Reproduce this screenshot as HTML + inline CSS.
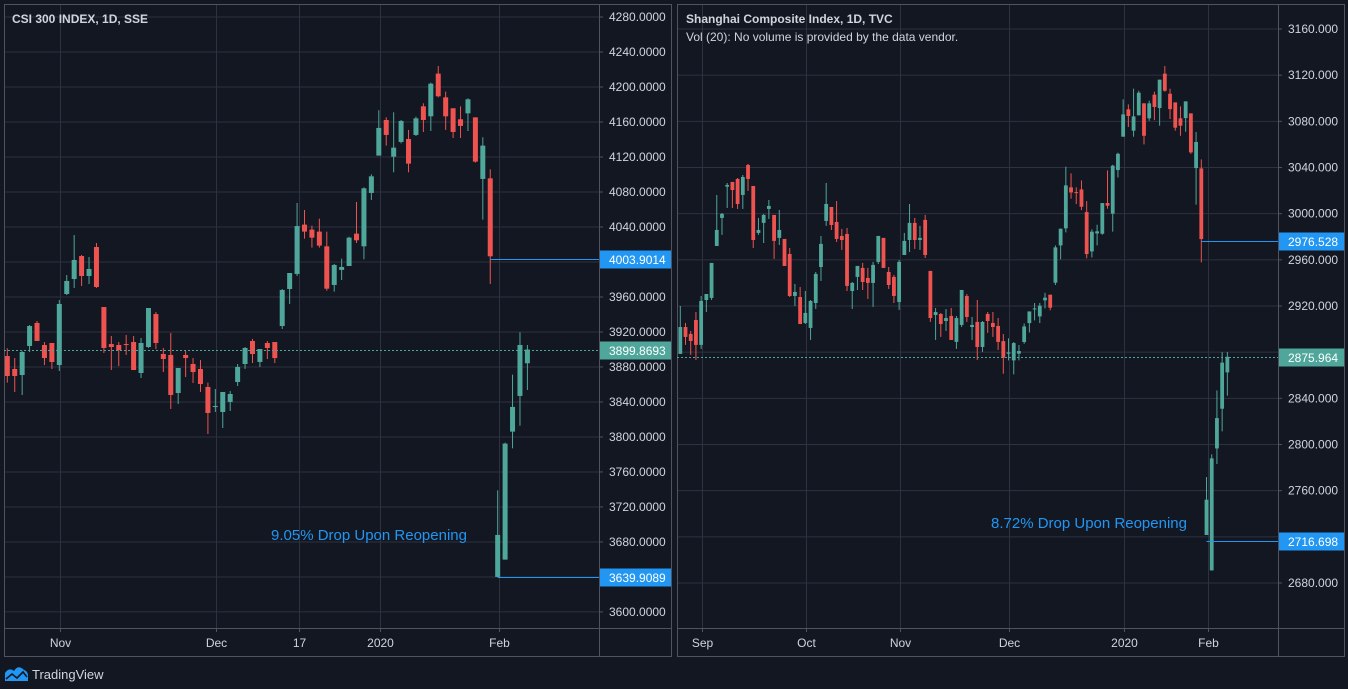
<!DOCTYPE html>
<html><head><meta charset="utf-8">
<style>
html,body{margin:0;padding:0;background:#131722;}
svg{display:block;font-family:"Liberation Sans",sans-serif;}
</style></head>
<body>
<svg id="chart" width="1348" height="689" viewBox="0 0 1348 689" xmlns="http://www.w3.org/2000/svg">
<rect x="0" y="0" width="1348" height="689" fill="#131722"/>
<g id="left"></g>
<g id="right"></g>
<g>
<path d="M5 681 L5 673 Q9 667 14 671 Q18 664 24 670 Q28 671 28 676 L28 681 Z" fill="#2196f3"/>
<path d="M6 679 L12 674 L17 678 L23 672 L27 677" stroke="#131722" stroke-width="1.6" fill="none"/>
<text x="32" y="679" fill="#d1d4dc" font-size="13">TradingView</text>
</g>
</svg>
<script>
// ===== CSI 300 data =====
const csiOpen  = [3892.5,3877.7,3870.8,3904.0,3930.3,3905.1,3907.4,3882.2,3963.4,3980.5,4006.8,3984.0,4017.1,3948.5,3906.2,3905.1,3906.2,3908.5,3873.1,3902.8,3940.5,3894.8,3893.7,3850.2,3893.7,3883.4,3877.7,3857.1,3834.2,3828.5,3840.0,3862.8,3883.4,3909.7,3885.7,3907.4,3908.5,3926.8,3969.1,3986.3,4042.7,4037.0,4034.7,4017.9,3973.7,3990.9,3995.4,4032.4,4017.9,4078.9,4121.6,4162.3,4120.4,4137.2,4140.6,4145.2,4177.9,4166.5,4215.3,4188.2,4175.7,4163.1,4169.9,4165.3,4094.9,4095.6,3640.0,3659.8,3806.1,3846.9,3884.2];
const csiHigh  = [3901.3,3890.2,3898.2,3928.0,3932.5,3908.5,3907.4,3956.5,3985.1,4030.8,4008.0,4005.7,4021.7,3948.5,3915.4,3908.5,3916.5,3915.4,3913.1,3947.4,3942.8,3901.7,3918.8,3878.8,3898.2,3890.2,3888.0,3862.1,3854.8,3851.4,3852.5,3883.4,3902.8,3912.0,3900.5,3909.7,3908.5,3969.1,3987.4,4067.4,4059.4,4041.5,4049.5,4034.7,3997.7,4003.8,4028.9,4068.6,4085.3,4100.2,4173.4,4165.3,4171.1,4162.3,4150.9,4166.1,4181.4,4205.0,4224.0,4194.7,4175.7,4177.9,4187.1,4165.3,4142.5,4105.9,3739.0,3793.5,3871.2,3919.6,3905.1];
const csiLow   = [3862.1,3851.4,3848.0,3897.1,3909.7,3882.2,3877.7,3875.4,3962.3,3970.3,3972.5,3974.8,3970.3,3896.0,3876.5,3881.1,3893.7,3876.5,3867.4,3901.7,3900.5,3874.2,3832.0,3837.7,3868.5,3861.7,3851.4,3803.4,3828.5,3810.2,3829.7,3858.2,3877.7,3884.5,3880.0,3889.1,3884.5,3923.4,3952.0,3984.0,4026.7,4016.4,4016.4,3967.2,3966.1,3979.4,3995.4,4021.7,4003.1,4070.9,4121.6,4133.0,4102.5,4135.6,4102.5,4144.0,4148.6,4149.7,4188.2,4150.9,4141.7,4141.7,4149.7,4113.6,4048.4,3974.9,3640.0,3659.8,3787.0,3812.9,3853.7];
const csiClose = [3869.7,3869.7,3897.1,3926.8,3909.7,3890.2,3885.7,3952.0,3978.3,4002.3,3984.0,3992.0,3971.4,3901.7,3902.8,3899.4,3905.1,3876.5,3907.4,3947.4,3907.4,3889.1,3848.0,3878.8,3890.2,3874.2,3860.5,3827.4,3835.4,3851.4,3849.1,3880.0,3901.7,3894.8,3900.5,3901.7,3890.2,3968.0,3987.4,4041.1,4034.7,4027.8,4018.7,3969.5,3996.6,3994.3,4027.8,4024.8,4084.2,4097.9,4153.2,4145.2,4130.7,4161.2,4112.4,4164.2,4162.3,4203.8,4189.4,4166.5,4148.6,4155.5,4185.9,4114.7,4133.0,4006.5,3688.0,3792.4,3834.3,3905.1,3899.9];
const csiTickValues = [4280,4240,4200,4160,4120,4080,4040,4000,3960,3920,3880,3840,3800,3760,3720,3680,3640,3600];
const csiTimeLabels = ["Nov","Dec","17","2020","Feb"];
const csiTimeIdx = [7.13,28.1,39.2,50.2,66.2];

// ===== Shanghai Composite data =====
const shOpen  = [2878.5,2901.8,2895.8,2907.9,2886.3,2925.2,2927.0,2972.0,2996.3,3023.4,3027.5,3030.1,3016.2,3042.2,3024.0,2983.3,2992.0,3004.1,2998.9,2979.0,2978.1,2965.1,2928.7,2927.8,2905.3,2901.0,2922.6,2953.8,2993.7,3005.8,2992.8,2980.7,2982.4,2933.0,2945.2,2953.0,2944.3,2940.0,2958.2,2979.0,2949.5,2945.2,2923.5,2964.2,2977.2,2992.0,2977.2,2994.6,2950.4,2912.2,2913.1,2907.0,2911.4,2888.9,2903.6,2928.7,2901.8,2906.2,2884.5,2913.1,2905.3,2902.7,2889.6,2878.7,2872.9,2878.7,2888.8,2905.2,2917.1,2911.0,2924.9,2929.8,2940.2,2972.5,2987.3,3022.8,3018.7,3021.0,3001.4,2967.3,2982.9,2982.6,3009.2,3000.0,3037.8,3066.7,3090.4,3071.9,3085.2,3095.6,3082.6,3103.1,3091.5,3121.3,3103.9,3096.4,3082.6,3082.8,3086.9,3039.5,3039.2,2721.6,2690.9,2796.6,2831.0,2862.5];
const shHigh  = [2920.0,2905.3,2898.4,2914.8,2928.7,2930.4,2957.3,3016.2,3000.6,3026.6,3027.5,3030.9,3033.5,3043.1,3024.0,2996.3,2999.8,3011.9,2998.9,3003.2,2978.1,2970.3,2939.1,2936.5,2933.0,2925.2,2949.5,2980.7,3026.6,3005.8,3011.0,2986.8,2987.6,2940.8,2954.7,2957.3,2953.0,2958.2,2980.7,2979.0,2953.8,2946.9,2959.9,2983.3,3008.4,2996.3,2989.4,2998.9,2950.4,2918.3,2914.0,2917.4,2918.3,2911.4,2933.9,2930.4,2910.5,2925.2,2907.0,2914.8,2914.8,2909.6,2895.7,2892.0,2888.8,2886.2,2904.9,2915.3,2922.6,2922.6,2931.5,2929.8,2972.5,2987.0,3040.7,3034.9,3022.8,3028.8,3010.9,2986.4,2990.4,3009.2,3037.5,3042.4,3052.8,3099.0,3094.7,3108.3,3106.5,3095.6,3097.9,3105.7,3116.1,3127.9,3108.3,3096.4,3093.0,3097.3,3086.9,3070.7,3047.0,2771.8,2791.5,2846.9,2880.1,2880.1];
const shLow   = [2878.5,2886.3,2877.6,2873.3,2882.8,2914.8,2925.2,2972.0,2981.6,3004.9,3004.9,3004.1,3004.1,3019.7,2970.3,2981.6,2974.6,2995.4,2960.8,2972.9,2954.7,2927.8,2920.0,2904.4,2904.4,2890.6,2917.4,2941.7,2989.4,2985.9,2975.5,2968.6,2933.0,2917.4,2933.9,2933.9,2926.1,2919.2,2956.4,2953.0,2934.8,2922.6,2916.6,2964.2,2966.8,2969.4,2968.6,2961.6,2906.2,2890.6,2893.2,2898.4,2890.6,2882.8,2901.8,2906.2,2890.6,2873.3,2880.2,2896.7,2893.2,2881.9,2861.3,2872.9,2860.8,2872.9,2887.3,2897.1,2907.5,2905.2,2917.9,2916.2,2938.2,2960.4,2983.8,3013.0,3008.3,3003.1,2961.3,2962.1,2972.5,2981.8,3004.3,2984.4,3031.4,3066.7,3075.1,3066.7,3085.2,3060.0,3080.5,3081.1,3076.2,3105.7,3082.0,3071.9,3067.5,3071.0,3051.9,3007.8,2957.8,2721.6,2690.9,2783.1,2811.4,2842.3];
const shClose = [2901.8,2893.2,2889.7,2886.3,2924.4,2930.4,2957.3,2985.9,2999.8,3024.9,3020.5,3008.4,3031.8,3030.1,2977.2,2985.9,2998.9,3006.7,2976.4,2985.9,2954.7,2928.7,2932.2,2904.4,2914.0,2924.4,2947.8,2973.8,3008.4,2990.2,2978.1,2977.2,2937.4,2940.0,2954.7,2940.8,2940.0,2955.6,2980.7,2953.0,2938.2,2928.7,2958.2,2976.4,2992.0,2977.2,2979.0,2964.2,2909.6,2914.8,2904.4,2909.6,2890.6,2909.6,2933.9,2910.5,2903.6,2884.5,2906.2,2907.0,2901.8,2888.9,2875.2,2879.8,2887.9,2881.0,2902.3,2915.3,2917.9,2920.3,2927.2,2918.5,2970.8,2987.0,3024.5,3018.4,3018.2,3006.0,2965.0,2984.4,2984.7,3009.2,3006.9,3041.6,3051.9,3086.0,3084.6,3084.3,3104.8,3067.5,3095.6,3092.4,3116.1,3106.5,3090.6,3074.5,3076.2,3097.3,3053.1,3062.1,2978.0,2752.2,2788.0,2822.9,2870.9,2876.0];
const shTickValues = [3160,3120,3080,3040,3000,2960,2920,2880,2840,2800,2760,2720,2680];
const shTimeLabels = ["Sep","Oct","Nov","Dec","2020","Feb"];
const shTimeIdx = [4.2,24.2,42.2,63.1,85.2,101.2];

const NS = "http://www.w3.org/2000/svg";
const UP = "#4fa69b", DOWN = "#ef5350", GRID = "#2e3240", BORDER = "#50535e", TXT = "#d1d4dc", BLUE = "#2196f3";

function mk(tag, attrs, parent) {
  const e = document.createElementNS(NS, tag);
  for (const k in attrs) e.setAttribute(k, attrs[k]);
  parent.appendChild(e);
  return e;
}

function drawChart(g, cfg) {
  const yScale = p => cfg.y0 + (cfg.pTop - p) * cfg.ppu;
  const xScale = i => cfg.x0 + i * cfg.dx;
  cfg.ticks.forEach(t => {
    const y = yScale(t);
    const gl = mk("line", {x1: cfg.left, x2: cfg.axisX, y1: y, y2: y, stroke: GRID, "stroke-width": 1}, g);
    
    
  });
  cfg.timeIdx.forEach((ti, k) => {
    const x = Math.round(xScale(ti)) + 0.5;
    const vl = mk("line", {x1: x, x2: x, y1: cfg.top, y2: cfg.timeY, stroke: GRID, "stroke-width": 1}, g);
    
    
    const tk = mk("line", {x1: x, x2: x, y1: cfg.timeY, y2: cfg.timeY + 4, stroke: BORDER}, g);
    
    
    const tl = mk("text", {x: x, y: cfg.timeY + 19, fill: TXT, "font-size": 12, "text-anchor": "middle"}, g);
    tl.textContent = cfg.timeLabels[k];
    
    
  });
  const bw = cfg.bw;
  for (let i = 0; i < cfg.open.length; i++) {
    const o = cfg.open[i], c = cfg.close[i], h = cfg.high[i], l = cfg.low[i];
    const col = c >= o ? UP : DOWN;
    const x = xScale(i);
    const cg = mk("g", {}, g);
    
    
    mk("line", {x1: x, x2: x, y1: yScale(h), y2: yScale(l), stroke: col, "stroke-width": 1}, cg);
    const yt = yScale(Math.max(o, c)), yb = yScale(Math.min(o, c));
    mk("rect", {x: x - bw / 2, y: yt, width: bw, height: Math.max(1, yb - yt), fill: col}, cg);
  }
  const ax = mk("line", {x1: cfg.axisX + 0.5, x2: cfg.axisX + 0.5, y1: cfg.top, y2: cfg.bottom, stroke: BORDER}, g);
  
  
  const tx = mk("line", {x1: cfg.left, x2: cfg.right, y1: cfg.timeY + 0.5, y2: cfg.timeY + 0.5, stroke: BORDER}, g);
  
  
  const fr = mk("rect", {x: cfg.left + 0.5, y: cfg.top + 0.5, width: cfg.right - cfg.left, height: cfg.bottom - cfg.top, fill: "none", stroke: BORDER}, g);
  
  
  cfg.ticks.forEach(t => {
    const y = yScale(t);
    if (cfg.marks.some(m => Math.abs(yScale(m.v) - y) < 12)) return;
    mk("line", {x1: cfg.axisX, x2: cfg.axisX + 4, y1: y, y2: y, stroke: BORDER}, g);
    const tl = mk("text", {x: cfg.axisX + 10, y: y + 4, fill: TXT, "font-size": 12}, g);
    tl.textContent = t.toFixed(cfg.dec);
    
    
  });
  cfg.marks.forEach(m => {
    const y = Math.round(yScale(m.v)) + 0.5;
    const ln = mk("line", {x1: m.dotted ? cfg.left : xScale(m.from), x2: cfg.axisX, y1: y, y2: y, stroke: m.color, "stroke-width": 1, "stroke-dasharray": m.dotted ? "2,2" : "none"}, g);
    
    
    const bx = mk("rect", {x: cfg.axisX + 1, y: y - 9, width: cfg.right - cfg.axisX - 1, height: 18, fill: m.color}, g);
    
    
    const bt = mk("text", {x: cfg.axisX + 10, y: y + 4.5, fill: "#ffffff", "font-size": 12}, g);
    bt.textContent = m.v.toFixed(cfg.dec);
    
    
  });
}

drawChart(document.getElementById("left"), {
  open: csiOpen, high: csiHigh, low: csiLow, close: csiClose,
  ticks: csiTickValues, timeLabels: csiTimeLabels, timeIdx: csiTimeIdx,
  pTop: 4230.86, y0: 60, ppu: 1 / 0.381 / 3,
  x0: 7.3, dx: 7.43, bw: 5,
  left: 4, right: 671, top: 4, bottom: 656, axisX: 599, timeY: 628, dec: 4,
  marks: [
    {v: 4003.9014, color: BLUE, from: 65, name: "pre-holiday-close"},
    {v: 3639.9089, color: BLUE, from: 66, name: "reopen-price"},
    {v: 3899.8693, color: UP, dotted: true, name: "last-price"}
  ]
});
drawChart(document.getElementById("right"), {
  open: shOpen, high: shHigh, low: shLow, close: shClose,
  ticks: shTickValues, timeLabels: shTimeLabels, timeIdx: shTimeIdx,
  pTop: 3133.14, y0: 60, ppu: 1 / 0.2888 / 3,
  x0: 680.3, dx: 5.21, bw: 3.8,
  left: 677, right: 1344, top: 4, bottom: 656, axisX: 1278, timeY: 628, dec: 3,
  marks: [
    {v: 2976.528, color: BLUE, from: 100, name: "pre-holiday-close"},
    {v: 2716.698, color: BLUE, from: 101, name: "reopen-price"},
    {v: 2875.964, color: UP, dotted: true, name: "last-price"}
  ]
});

const svg = document.getElementById("chart");
function label(txt, x, y, size, color, weight, name) {
  const t = mk("text", {x: x, y: y, fill: color, "font-size": size, "font-weight": weight}, svg);
  t.textContent = txt;
  
  
}
label("CSI 300 INDEX, 1D, SSE", 12, 23, 12, TXT, "bold", "left-chart-title");
label("Shanghai Composite Index, 1D, TVC", 686, 23, 12, TXT, "bold", "right-chart-title");
label("Vol (20): No volume is provided by the data vendor.", 686, 41, 12, TXT, "normal", "volume-note");
label("9.05% Drop Upon Reopening", 271, 540, 15, BLUE, "normal", "csi-drop-annotation");
label("8.72% Drop Upon Reopening", 991, 528, 15, BLUE, "normal", "shanghai-drop-annotation");
</script>
</body></html>
